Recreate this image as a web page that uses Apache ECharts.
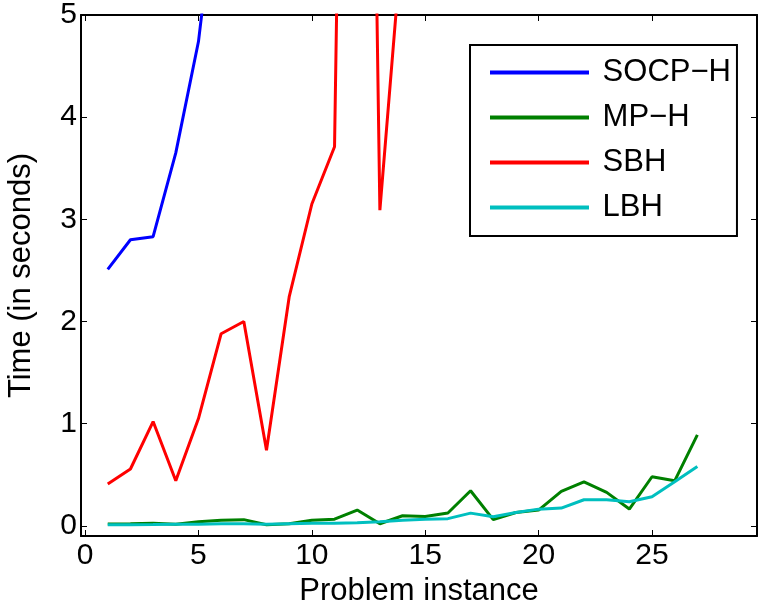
<!DOCTYPE html>
<html>
<head>
<meta charset="utf-8">
<script src="https://cdn.jsdelivr.net/npm/echarts@6/dist/echarts.min.js"></script>
<style>
  html, body { margin: 0; padding: 0; background: #fff; }
  #chart { width: 758px; height: 603px; }
</style>
</head>
<body>
<div id="chart"></div>
<script>
// values (time in seconds per problem instance)
var instances = [1, 2, 3, 4, 5, 6, 7, 8, 9, 10, 11, 12, 13, 14, 15, 16, 17, 18, 19, 20, 21, 22, 23, 24, 25, 26, 27]
var socpH = [2.51, 2.80, 2.83, 3.65, 4.74, 6.6]
var mpH = [0.017, 0.02, 0.025, 0.015, 0.04, 0.055, 0.06, 0.01, 0.02, 0.055, 0.065, 0.154, 0.02, 0.098, 0.09,
  0.125, 0.343, 0.06, 0.13, 0.154, 0.336, 0.43, 0.327, 0.164, 0.48, 0.44, 0.89]
var sbh = [0.41, 0.556, 1.02, 0.44, 1.05, 1.88, 2.0, 0.74, 2.24, 3.15, 3.71, 18, 3.09, 5.8]
var lbh = [0.01, 0.01, 0.012, 0.015, 0.015, 0.02, 0.02, 0.015, 0.02, 0.025, 0.026, 0.03, 0.04, 0.055, 0.065,
  0.07, 0.124, 0.088, 0.13, 0.163, 0.173, 0.255, 0.255, 0.235, 0.284, 0.43, 0.58]
var xTicks = [0, 5, 10, 15, 20, 25]
var yTicks = [0, 1, 2, 3, 4, 5]

var font = 'Liberation Sans, Arial, Helvetica, sans-serif'

function pairs(vals) {
  return vals.map(function (v, i) { return [instances[i], v] })
}

function mkSeries(name, vals, color) {
  return {
    name: name,
    type: 'line',
    data: pairs(vals),
    showSymbol: false,
    symbol: 'none',
    clip: true,
    lineStyle: { color: color, width: 3 },
    itemStyle: { color: color }
  }
}

var axisLineStyle = { show: true, onZero: false, lineStyle: { color: '#000', width: 2 } }

var chart = echarts.init(document.getElementById('chart'))
chart.setOption({
  animation: false,
  backgroundColor: '#fff',
  grid: { left: 81, right: 1, top: 15, bottom: 67, outerBoundsMode: 'none', containLabel: false },
  legend: {
    left: 470,
    top: 45,
    orient: 'vertical',
    icon: 'rect',
    itemWidth: 99,
    itemHeight: 4,
    itemGap: 14,
    padding: [12, 6, 13, 20],
    borderColor: '#000',
    borderWidth: 2,
    backgroundColor: '#fff',
    formatter: function (n) { return ' ' + n },
    textStyle: { fontFamily: font, fontSize: 31, color: '#000', lineHeight: 31 },
    data: ['SOCP\u2212H', 'MP\u2212H', 'SBH', 'LBH']
  },
  xAxis: [{
    type: 'value',
    min: -0.18,
    max: 29.63,
    name: 'Problem instance',
    nameLocation: 'middle',
    nameGap: 40,
    nameTextStyle: { fontFamily: font, fontSize: 31, color: '#000' },
    axisLine: axisLineStyle,
    axisTick: { show: true, inside: true, length: 6, customValues: xTicks, lineStyle: { color: '#000', width: 1 } },
    axisLabel: { customValues: xTicks, fontFamily: font, fontSize: 30, color: '#000', margin: 5 },
    splitLine: { show: false }
  }, {
    type: 'value',
    position: 'top',
    min: -0.18,
    max: 29.63,
    axisLine: axisLineStyle,
    axisTick: { show: true, inside: true, length: 6, customValues: xTicks, lineStyle: { color: '#000', width: 1 } },
    axisLabel: { show: false },
    splitLine: { show: false }
  }],
  yAxis: [{
    type: 'value',
    min: -0.1,
    max: 5,
    name: 'Time (in seconds)',
    nameLocation: 'middle',
    nameGap: 44,
    nameTextStyle: { fontFamily: font, fontSize: 31, color: '#000' },
    axisLine: axisLineStyle,
    axisTick: { show: true, inside: true, length: 6, customValues: yTicks, lineStyle: { color: '#000', width: 1 } },
    axisLabel: { customValues: yTicks, fontFamily: font, fontSize: 30, color: '#000', margin: 4 },
    splitLine: { show: false }
  }, {
    type: 'value',
    position: 'right',
    min: -0.1,
    max: 5,
    axisLine: axisLineStyle,
    axisTick: { show: true, inside: true, length: 6, customValues: yTicks, lineStyle: { color: '#000', width: 1 } },
    axisLabel: { show: false },
    splitLine: { show: false }
  }],
  series: [
    mkSeries('SOCP\u2212H', socpH, '#0000ff'),
    mkSeries('MP\u2212H', mpH, '#008000'),
    mkSeries('SBH', sbh, '#ff0000'),
    mkSeries('LBH', lbh, '#00bfbf')
  ]
})
</script>
</body>
</html>
